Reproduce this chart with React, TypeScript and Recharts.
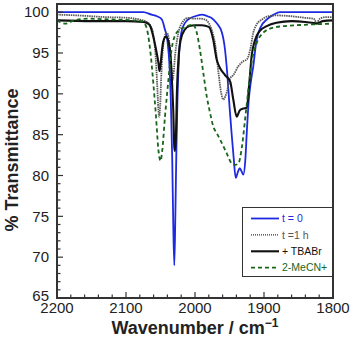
import React from "react";
import { LineChart, Line, XAxis, YAxis } from "recharts";

// wavenumber (cm-1), % transmittance
const t0: [number, number][] = [
  [2200, 100], [2075, 100], [2063, 99.7], [2055, 99.5], [2048, 99.1], [2044, 98.0], [2040, 96.5],
  [2037, 93.5], [2035, 89], [2033, 82], [2031.5, 74], [2030, 69], [2028.5, 75], [2027, 83],
  [2025.5, 89], [2023.5, 94], [2021.5, 96.6], [2017, 98.3], [2010, 99.1], [2000, 99.5], [1990, 99.7],
  [1982, 99.5], [1976, 99.3], [1969, 98.7], [1961, 97.5], [1956.5, 95.4], [1953, 92.2], [1950, 88.5],
  [1947, 85.2], [1944, 82.2], [1941, 79.7], [1938, 80.4], [1935, 80.9], [1932.5, 80.5], [1930, 80.1],
  [1927, 82], [1925, 85.2], [1922, 89.3], [1919, 91.5], [1915.5, 93.4], [1911, 96.5], [1904, 98.3],
  [1896, 99.1], [1886, 99.7], [1877, 100], [1800, 100],
];

const t1h: [number, number][] = [
  [2200, 99.7], [2170, 99.6], [2130, 99.4], [2097, 99.3], [2080, 99.1], [2070, 98.8], [2064, 98.3],
  [2060, 97], [2057, 94.5], [2055, 91.5], [2053, 88], [2052, 87.2], [2050.5, 88.5], [2049, 92],
  [2047, 95], [2044, 97], [2041, 97.5], [2038, 96.8], [2036, 95], [2034, 93], [2032.3, 91.7],
  [2031, 92.5], [2029, 94.6], [2026, 96.6], [2024, 97.5], [2017, 98.9], [2010, 99.3], [2000, 99.2],
  [1992, 99.2], [1985.5, 99.1], [1976, 97.9], [1971, 96.2], [1966, 92.6], [1962, 90.1], [1959, 89.3],
  [1954, 90.2], [1949, 91.9], [1944.5, 92.3], [1937, 93.4], [1930, 94], [1925, 94.2], [1920, 95.4],
  [1915.5, 97.5], [1910.6, 98.5], [1903, 99.1], [1894, 99.5], [1882, 99.6], [1860, 99.5],
  [1840, 99.3], [1828, 99.2], [1823.5, 98.7], [1819, 99.2], [1810, 99.4], [1800, 99.4],
];

const tbabr: [number, number][] = [
  [2200, 99.0], [2150, 98.9], [2100, 98.9], [2075, 98.8], [2068, 98.6], [2065, 98.3], [2060.4, 97],
  [2055.5, 95], [2053, 93.8], [2051.5, 92.8], [2050, 93.5], [2048.3, 95], [2046, 96.4], [2042, 97],
  [2038.7, 96.5], [2035.3, 94.6], [2033, 90.9], [2031.4, 87.7], [2030, 83.5], [2029, 83],
  [2027.5, 85.2], [2026.5, 89.3], [2024, 94.2], [2020.7, 96.6], [2014.5, 97.9], [2008, 98.3],
  [2000, 98.4], [1990, 98.4], [1980, 98.2], [1973.5, 96.6], [1968.6, 94.2], [1964, 93.2],
  [1956.5, 92.3], [1949, 91.5], [1944.5, 89.3], [1939.6, 87.2], [1935, 88], [1930, 88.2],
  [1925, 88.3], [1921.3, 91.3], [1918, 94.6], [1913, 96.6], [1906, 97.7], [1896, 98.3],
  [1882, 98.7], [1860, 98.9], [1840, 98.8], [1830, 98.7], [1823.5, 98.6], [1815, 98.9], [1800, 99.0],
];

const meCN: [number, number][] = [
  [2200, 99.0], [2188, 98.6], [2175, 99.0], [2155, 99.2], [2120, 99.1], [2090, 99.0], [2077, 98.9],
  [2071, 98.3], [2065, 95.4], [2060.4, 91.3], [2056.5, 87.2], [2053, 83.1], [2050, 81.8],
  [2047.4, 83.1], [2043.5, 87.2], [2039, 91.3], [2034, 95.4], [2026.5, 97.5], [2017, 98.1],
  [2007, 98.4], [2003, 98.5], [1997.5, 97.5], [1992.8, 95.4], [1988, 92.6], [1983, 89.7],
  [1978, 87.6], [1973.5, 86], [1968.6, 85.2], [1961.3, 84], [1954, 82.7], [1947, 81.5], [1942, 81.3],
  [1937, 81.5], [1932, 83.5], [1927.5, 86.8], [1922.7, 90.5], [1918, 93.8], [1910.6, 96.2],
  [1901, 97.5], [1886.5, 98.1], [1870, 98.3], [1852.6, 98.4], [1800, 98.6],
];

const xTicks: number[] = [];
for (let w = 1800; w <= 2200; w += 20) xTicks.push(w);
const yTicks: number[] = [];
for (let t = 65; t <= 100; t += 1) yTicks.push(t);

const toRows = (pts: [number, number][]) => pts.map(([w, t]) => ({ w, t }));

const series = [
  { name: "t = 0", data: toRows(t0), stroke: "#1e2ae0", width: 1.8, dash: undefined, text: "#1e2ae0" },
  { name: "t =1 h", data: toRows(t1h), stroke: "#5a5a5a", width: 1.8, dash: "1.5 0.8", text: "#555" },
  { name: "+ TBABr", data: toRows(tbabr), stroke: "#111", width: 2.1, dash: undefined, text: "#111" },
  { name: "2-MeCN+", data: toRows(meCN), stroke: "#17661a", width: 1.8, dash: "4 3", text: "#17661a" },
];

const FONT = "'Liberation Sans', Arial, sans-serif";

function XTick(props: any) {
  const { x, y, payload } = props;
  const v = payload.value;
  const major = v % 100 === 0;
  return (
    <g>
      <line x1={x} x2={x} y1={y} y2={y - (major ? 6 : 3.5)} stroke="#333" strokeWidth={1.2} />
      {major && (
        <text x={x} y={y + 15} textAnchor="middle" fontSize={15} fill="#222" fontFamily={FONT}>
          {v}
        </text>
      )}
    </g>
  );
}

function YTick(props: any) {
  const { x, y, payload } = props;
  const v = payload.value;
  const major = v % 5 === 0;
  return (
    <g>
      <line x1={x} x2={x + (major ? 6 : 3.5)} y1={y} y2={y} stroke="#333" strokeWidth={1.2} />
      {major && (
        <text x={x - 8} y={v === 65 ? y - 2 : y} dy="0.35em" textAnchor="end" fontSize={15} fill="#222" fontFamily={FONT}>
          {v}
        </text>
      )}
    </g>
  );
}

function LegendBox() {
  return (
    <div
      style={{
        position: "absolute",
        left: 242,
        top: 207,
        border: "1px solid #333",
        background: "#fff",
        width: 91,
        height: 70,
        boxSizing: "border-box",
        fontFamily: FONT,
      }}
    >
      <svg width={89} height={68} style={{ position: "absolute", left: 0, top: 0 }}>
        {series.map((s, i) => {
          const cy = 10.5 + i * 16.4;
          return (
            <g key={s.name}>
              <line
                x1={8}
                x2={36}
                y1={cy}
                y2={cy}
                stroke={i === 1 ? "#333" : s.stroke}
                strokeWidth={i === 1 ? 1.3 : s.width}
                strokeDasharray={i === 1 ? "1 1" : s.dash}
              />
              <text x={39} y={cy} dy="0.35em" fontSize={10.5} fill={s.text} fontFamily={FONT}>
                {s.name}
              </text>
            </g>
          );
        })}
      </svg>
    </div>
  );
}

export default function App() {
  return (
    <div style={{ position: "absolute", left: 0, top: 0, width: 354, height: 344, background: "#fff" }}>
      <LineChart width={354} height={344} margin={{ top: 4, right: 21, left: 0, bottom: 0 }}>
        <XAxis
          dataKey="w"
          type="number"
          domain={[1800, 2200]}
          reversed
          ticks={xTicks}
          interval={0}
          tickSize={0}
          tickMargin={0}
          axisLine={false}
          tickLine={false}
          tick={<XTick />}
          height={46}
          allowDataOverflow
        />
        <YAxis
          dataKey="t"
          type="number"
          domain={[65, 101]}
          ticks={yTicks}
          interval={0}
          tickSize={0}
          tickMargin={0}
          axisLine={false}
          tickLine={false}
          tick={<YTick />}
          width={57}
          allowDataOverflow
        />
        {series.map((s) => (
          <Line
            key={s.name}
            data={s.data}
            dataKey="t"
            name={s.name}
            type="monotone"
            stroke={s.stroke}
            strokeWidth={s.width}
            strokeDasharray={s.dash}
            dot={false}
            activeDot={false}
            isAnimationActive={false}
          />
        ))}
      </LineChart>
      <LegendBox />
      <svg
        width={354}
        height={344}
        style={{ position: "absolute", left: 0, top: 0, pointerEvents: "none" }}
      >
        <rect x={57} y={4} width={276} height={294} fill="none" stroke="#333" strokeWidth={2} />
        <text
          x={12}
          y={160}
          transform="rotate(-90 12 160)"
          textAnchor="middle"
          dominantBaseline="central"
          fontSize={18}
          fontWeight="bold"
          fill="#222"
          fontFamily={FONT}
        >
          % Transmittance
        </text>
        <text x={195} y={334} textAnchor="middle" fontSize={18} fontWeight="bold" fill="#222" fontFamily={FONT}>
          Wavenumber / cm
          <tspan dy={-7} fontSize={12}>
            −1
          </tspan>
        </text>
      </svg>
    </div>
  );
}
